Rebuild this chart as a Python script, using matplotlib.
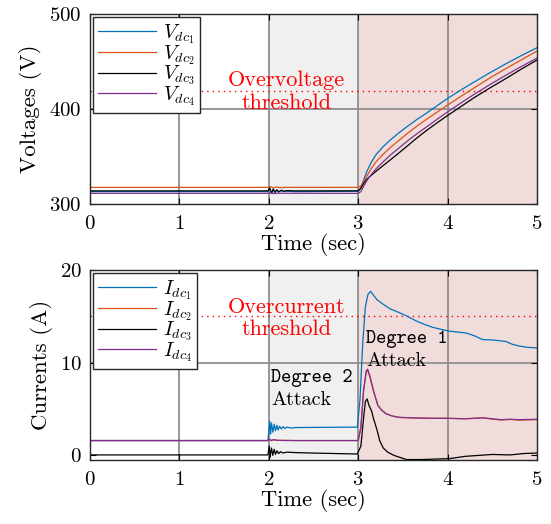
import matplotlib
matplotlib.use("Agg")
import matplotlib.pyplot as plt

plt.rcParams['font.family'] = ['cmr10', 'DejaVu Serif']
plt.rcParams['mathtext.fontset'] = 'cm'
plt.rcParams['axes.formatter.use_mathtext'] = True
plt.rcParams['axes.unicode_minus'] = False

# ---------------- data ----------------
colors = ['#0072BD', '#D95319', '#000000', '#7E2F8E']

# Voltages
tv1 = [0, 1.99, 2.01, 2.03, 2.05, 2.07, 2.09, 2.11, 2.14, 2.17, 2.2, 2.3, 3.0, 3.03, 3.06, 3.1, 3.15, 3.2, 3.28, 3.36, 3.45, 3.54, 3.65, 3.77, 3.88, 3.99, 4.14, 4.29, 4.47, 4.66, 4.83, 5.0]
v1 = [313, 313, 316, 311, 315, 312, 314.5, 312.5, 314, 313, 313.5, 313, 313.5, 317, 325, 335, 344.5, 352, 360.5, 367.5, 374.5, 381, 388.5, 396, 403.3, 410.5, 419.5, 428, 438, 448, 456.5, 464.5]
tv2 = [0, 1.99, 2.02, 2.05, 2.08, 2.12, 2.2, 3.0, 3.03, 3.06, 3.1, 3.15, 3.2, 3.28, 3.36, 3.45, 3.54, 3.65, 3.77, 3.88, 3.99, 4.14, 4.29, 4.47, 4.66, 4.83, 5.0]
v2 = [317.5, 317.5, 318.3, 317.0, 317.9, 317.3, 317.5, 317.5, 319, 323.5, 330, 338, 344.5, 352.5, 359.5, 366.5, 373.5, 381.5, 389.5, 396.5, 403.5, 412.8, 421.8, 432.5, 443, 452, 461]
tv3 = [0, 1.99, 2.01, 2.03, 2.05, 2.07, 2.09, 2.11, 2.14, 2.17, 2.2, 2.3, 3.0, 3.03, 3.06, 3.1, 3.15, 3.2, 3.28, 3.36, 3.45, 3.54, 3.65, 3.77, 3.88, 3.99, 4.14, 4.29, 4.47, 4.66, 4.83, 5.0]
v3 = [313.8, 313.8, 317, 311.5, 315.8, 312.4, 315, 312.9, 314.5, 313.4, 314, 313.8, 313.8, 316.5, 321.5, 326.5, 330.5, 334.5, 340.5, 346.5, 353.3, 360.3, 369, 377.8, 385.3, 392.5, 402, 411.5, 422, 432.5, 442.3, 451.5]
tv4 = [0, 1.99, 2.02, 2.05, 2.1, 3.0, 3.03, 3.06, 3.1, 3.15, 3.2, 3.28, 3.36, 3.45, 3.54, 3.65, 3.77, 3.88, 3.99, 4.14, 4.29, 4.47, 4.66, 4.83, 5.0]
v4 = [311.2, 311.2, 311.8, 311.0, 311.3, 311.2, 313, 318.5, 325, 331.5, 337, 344.5, 351.5, 358.5, 365.5, 373.5, 381.5, 389, 396.3, 405.8, 415, 425.5, 436, 445, 453.5]

# Currents
ti1 = [0, 1.99, 2.01, 2.02, 2.03, 2.045, 2.06, 2.075, 2.09, 2.105, 2.12, 2.14, 2.16, 2.18, 2.2, 2.25, 2.3, 2.5, 2.99, 3.02, 3.05, 3.08, 3.11, 3.14, 3.17, 3.21, 3.28, 3.36, 3.46, 3.55, 3.65, 3.75, 3.84, 3.93, 4.02, 4.12, 4.21, 4.3, 4.39, 4.5, 4.6, 4.65, 4.72, 4.8, 4.9, 5.0]
i1 = [1.6, 1.6, 3.7, 2.3, 3.5, 2.5, 3.35, 2.65, 3.25, 2.75, 3.15, 2.85, 3.1, 2.9, 3.05, 2.95, 3.0, 3.02, 3.05, 6, 12, 16, 17.4, 17.7, 17.3, 16.8, 16.3, 15.8, 15.4, 15.0, 14.5, 14.1, 13.8, 13.6, 13.4, 13.3, 13.2, 12.9, 12.5, 12.45, 12.35, 12.3, 12.0, 11.8, 11.65, 11.6]
ti2 = [0, 1.99, 2.01, 2.03, 2.05, 2.1, 2.3, 3.0, 3.03, 3.06, 3.09, 3.105, 3.13, 3.17, 3.22, 3.26, 3.31, 3.38, 3.46, 3.6, 3.8, 4.0, 4.2, 4.4, 4.5, 4.6, 4.7, 4.8, 5.0]
i2 = [1.6, 1.6, 1.72, 1.58, 1.68, 1.62, 1.6, 1.6, 3, 7, 9.0, 9.2, 8.5, 7.0, 5.4, 4.9, 4.5, 4.25, 4.1, 4.05, 4.0, 4.0, 3.95, 4.05, 3.9, 3.82, 3.88, 3.8, 3.85]
ti3 = [0, 1.99, 2.005, 2.015, 2.03, 2.045, 2.06, 2.075, 2.09, 2.11, 2.13, 2.16, 2.2, 2.3, 2.5, 2.99, 3.03, 3.06, 3.08, 3.10, 3.12, 3.15, 3.17, 3.19, 3.22, 3.24, 3.28, 3.33, 3.4, 3.54, 3.7, 4.02, 4.2, 4.35, 4.5, 4.7, 4.85, 5.0]
i3 = [0.05, 0.05, 1.0, -0.2, 0.8, 0.0, 0.65, 0.1, 0.5, 0.2, 0.4, 0.25, 0.35, 0.3, 0.25, 0.15, 1.0, 4.0, 5.8, 6.1, 5.4, 4.8, 4.0, 3.4, 2.4, 1.6, 0.8, 0.35, 0.0, -0.45, -0.45, -0.35, -0.1, 0.0, 0.1, 0.05, 0.2, 0.25]
ti4 = [0, 1.99, 2.01, 2.03, 2.05, 2.1, 2.3, 3.0, 3.03, 3.06, 3.09, 3.105, 3.13, 3.17, 3.22, 3.26, 3.31, 3.38, 3.46, 3.6, 3.8, 4.0, 4.2, 4.4, 4.5, 4.6, 4.7, 4.8, 5.0]
i4 = [1.6, 1.6, 1.75, 1.6, 1.7, 1.62, 1.6, 1.6, 3, 7, 9.1, 9.3, 8.6, 7.0, 5.4, 4.9, 4.5, 4.25, 4.1, 4.05, 4.0, 4.0, 3.95, 4.05, 3.95, 3.85, 3.9, 3.85, 3.9]

v_labels = [r'$V_{dc_1}$', r'$V_{dc_2}$', r'$V_{dc_3}$', r'$V_{dc_4}$']
i_labels = [r'$I_{dc_1}$', r'$I_{dc_2}$', r'$I_{dc_3}$', r'$I_{dc_4}$']
v_threshold = 419
i_threshold = 15
x_ticks = [0, 1, 2, 3, 4, 5]
v_ticks = [300, 400, 500]
i_ticks = [0, 10, 20]

# ---------------- figure ----------------
fig = plt.figure(figsize=(5.51, 5.24), dpi=100)
ax1 = fig.add_axes([0.1633, 0.6107, 0.8113, 0.3626])
ax2 = fig.add_axes([0.1633, 0.1221, 0.8113, 0.3626])

gray_region = '#f0f0f0'
red_region = '#f0dcdb'
grid_col = '#8f8f8f'


def style(ax, ylim, yticks, ylabel):
    ax.set_xlim(0, 5)
    ax.set_ylim(*ylim)
    ax.axvspan(2, 3, color=gray_region, zorder=0, lw=0)
    ax.axvspan(3, 5, color=red_region, zorder=0, lw=0)
    for x in x_ticks[1:-1]:
        ax.axvline(x, color=grid_col, lw=1.3, zorder=0.5)
    for y in yticks[1:-1]:
        ax.axhline(y, color=grid_col, lw=1.3, zorder=0.5)
    ax.set_xticks(x_ticks)
    ax.set_yticks(yticks)
    ax.tick_params(direction='in', top=True, right=True, labelsize=15, length=4, width=0.8)
    ax.tick_params(axis='x', pad=8)
    ax.tick_params(axis='y', pad=6)
    for s in ax.spines.values():
        s.set_color('#262626')
        s.set_linewidth(1.0)
    ax.set_xlabel('Time (sec)', fontsize=16.2, labelpad=0)
    ax.set_ylabel(ylabel, fontsize=16.5, labelpad=5)


style(ax1, (300, 500), v_ticks, 'Voltages (V)')
style(ax2, (-0.5, 20), i_ticks, 'Currents (A)')

for t, v, c, lab in zip([tv1, tv2, tv3, tv4], [v1, v2, v3, v4], colors, v_labels):
    ax1.plot(t, v, color=c, lw=0.9, label=lab, zorder=2)
for t, v, c, lab in zip([ti1, ti2, ti3, ti4], [i1, i2, i3, i4], colors, i_labels):
    ax2.plot(t, v, color=c, lw=0.9, label=lab, zorder=2)

ax1.axhline(v_threshold, color='red', ls=(0, (1, 3)), lw=1.0, zorder=1.5)
ax2.axhline(i_threshold, color='red', ls=(0, (1, 3)), lw=1.0, zorder=1.5)

ax1.text(2.2, 430.5, 'Overvoltage', color='red', fontsize=16, ha='center', va='center', zorder=3)
ax1.text(2.2, 406.5, 'threshold', color='red', fontsize=16, ha='center', va='center', zorder=3)
ax2.text(2.2, 16.0, 'Overcurrent', color='red', fontsize=16, ha='center', va='center', zorder=3)
ax2.text(2.2, 13.6, 'threshold', color='red', fontsize=16, ha='center', va='center', zorder=3)

ax2.text(2.03, 8.4, 'Degree 2', family='cmtt10', fontsize=14, ha='left', va='center', zorder=3)
ax2.text(2.03, 6.0, 'Attack', fontsize=14.5, ha='left', va='center', zorder=3)
ax2.text(3.09, 12.6, 'Degree 1', family='cmtt10', fontsize=14, ha='left', va='center', zorder=3)
ax2.text(3.09, 10.2, 'Attack', fontsize=14.5, ha='left', va='center', zorder=3)

for ax in (ax1, ax2):
    leg = ax.legend(loc='upper left', fontsize=14.5, handlelength=2.9, labelspacing=-0.15,
                    borderpad=0.25, borderaxespad=0.15, handletextpad=0.35,
                    fancybox=False, framealpha=1, edgecolor='#262626')
    leg.get_frame().set_linewidth(1.0)
    leg.set_zorder(5)

fig.savefig('out.png', dpi=100)
